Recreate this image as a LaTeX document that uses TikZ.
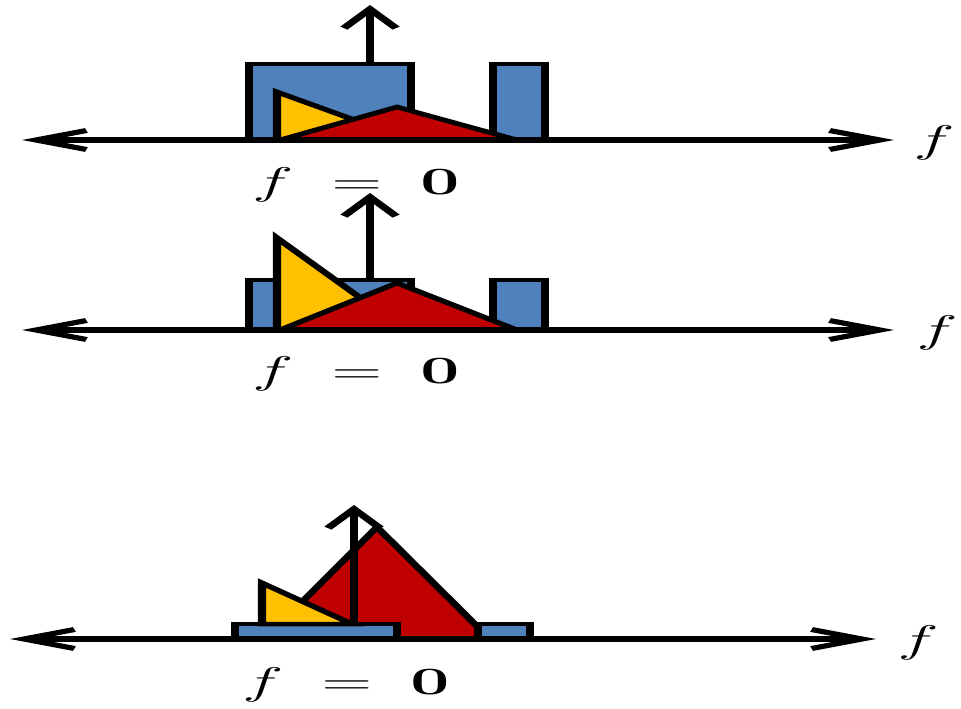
\documentclass[tikz,border=0pt]{standalone}
\usetikzlibrary{arrows.meta}
\definecolor{bblue}{HTML}{4F81BD}
\definecolor{byellow}{HTML}{FFC000}
\definecolor{bred}{HTML}{C00000}
\newcommand{\biglbl}[1]{\scalebox{1.55}{\fontsize{24.88}{30}\selectfont #1}}
\tikzset{
  blk/.style={draw=black, line width=4.5pt, line join=miter},
  haxis/.style={line width=5.5pt, {Straight Barb[length=28pt,width=19pt,line width=5pt]}-{Straight Barb[length=28pt,width=19pt,line width=5pt]}},
  uparrow/.style={line width=4.5pt, -{Straight Barb[length=19pt,width=29pt,line width=5pt]}},
  lbl/.style={inner sep=0pt},
}
\begin{document}
\begin{tikzpicture}[x=1pt,y=-1pt]
\useasboundingbox (0,0) rectangle (961,709);
\begin{scope}[transform canvas={xscale=1.8}, x=0.55556pt]
% ---------- panel 1 ----------
\coordinate (a1l) at (22,140);
\coordinate (a1r) at (894,140);
\draw[blk, fill=bblue] (249,140) rectangle (411,64);
\draw[blk, fill=bblue] (493,140) rectangle (545,64);
\draw[blk, fill=byellow] (277,140) -- (277,92) -- (410,140) -- cycle;
\draw[blk, fill=bred] (280,140) -- (397,107) -- (517,140) -- cycle;
\coordinate (u1s) at (370,64);
\coordinate (u1t) at (370,5);
\draw[uparrow] (u1s) -- (u1t);
\draw[haxis] (a1l) -- (a1r);
\node[lbl] (f1) at (934,143) {\biglbl{$f$}};
\node[lbl] (e1) at (356,185) {\biglbl{$f\;=\;\mathbf{0}$}};
% ---------- panel 2 ----------
\coordinate (a2l) at (22,330);
\coordinate (a2r) at (894,330);
\draw[blk, fill=bblue] (249,330) rectangle (411,280);
\draw[blk, fill=bblue] (493,330) rectangle (545,280);
\draw[blk, fill=byellow] (277,330) -- (277,238) -- (405,330) -- cycle;
\draw[blk, fill=bred] (280,330) -- (397,283) -- (517,330) -- cycle;
\coordinate (u2s) at (370,280);
\coordinate (u2t) at (370,193);
\draw[uparrow] (u2s) -- (u2t);
\draw[haxis] (a2l) -- (a2r);
\node[lbl] (f2) at (937,333) {\biglbl{$f$}};
\node[lbl] (e2) at (356,374) {\biglbl{$f\;=\;\mathbf{0}$}};
% ---------- panel 3 ----------
\coordinate (a3l) at (10,639);
\coordinate (a3r) at (876,639);
\draw[blk, fill=bred] (265,639) -- (377,527) -- (490,639) -- cycle;
\draw[blk, fill=bblue] (235,639) rectangle (397,624);
\draw[blk, fill=bblue] (478,639) rectangle (530,624);
\draw[blk, fill=byellow] (262,624) -- (262,583) -- (352,624) -- cycle;
\coordinate (u3s) at (354,624);
\coordinate (u3t) at (354,505);
\draw[uparrow] (u3s) -- (u3t);
\draw[haxis] (a3l) -- (a3r);
\node[lbl] (f3) at (918,643) {\biglbl{$f$}};
\node[lbl] (e3) at (346,685) {\biglbl{$f\;=\;\mathbf{0}$}};
\end{scope}
\end{tikzpicture}
\end{document}
